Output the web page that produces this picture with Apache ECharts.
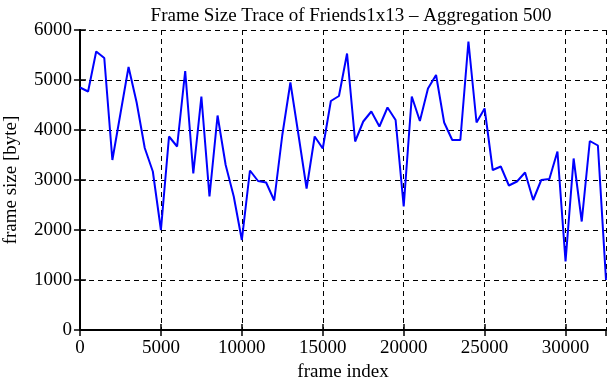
<!DOCTYPE html>
<html>
<head>
<meta charset="utf-8">
<script src="https://cdn.jsdelivr.net/npm/echarts@6/dist/echarts.min.js"></script>
<style>html,body{margin:0;padding:0;background:#fff}#c{width:611px;height:380px}</style>
</head>
<body>
<div id="c"></div>
<script>
const frameIndex = [0,500,1000,1500,2000,2500,3000,3500,4000,4500,5000,5500,6000,6500,7000,7500,8000,8500,9000,9500,10000,10500,11000,11500,12000,12500,13000,13500,14000,14500,15000,15500,16000,16500,17000,17500,18000,18500,19000,19500,20000,20500,21000,21500,22000,22500,23000,23500,24000,24500,25000,25500,26000,26500,27000,27500,28000,28500,29000,29500,30000,30500,31000,31500,32000,32500];
const frameSize = [4850,4770,5570,5440,3400,4330,5260,4550,3640,3170,2000,3870,3670,5180,3130,4670,2670,4290,3300,2670,1800,3190,2980,2950,2590,3900,4950,3900,2830,3870,3630,4580,4680,5530,3770,4170,4370,4070,4450,4200,2470,4670,4180,4830,5100,4150,3800,3800,5770,4150,4430,3200,3270,2890,2970,3150,2600,3000,3020,3570,1370,3430,2170,3780,3690,1000];
const xTicks = [0,5000,10000,15000,20000,25000,30000];
const yTicks = [0,1000,2000,3000,4000,5000,6000];
const titleText = 'Frame Size Trace of Friends1x13 \u2013 Aggregation 500';
const xName = 'frame index';
const yName = 'frame size [byte]';

const font = '"Liberation Serif", "DejaVu Serif", serif';
const chart = echarts.init(document.getElementById('c'), null, {renderer: 'canvas'});
const data = frameIndex.map((x, i) => [x, frameSize[i]]);
const axisLine = {show: true, lineStyle: {color: '#000', width: 2}};
const dashed = {show: true, lineStyle: {color: '#000', width: 1, type: [5, 4]}};
chart.setOption({
  animation: false,
  backgroundColor: '#fff',
  title: {text: titleText, left: 346, top: 2, textAlign: 'center',
    textStyle: {fontFamily: font, fontSize: 19, fontWeight: 'normal', color: '#000'}},
  grid: {left: 80, right: 5, top: 30, bottom: 50, containLabel: false, outerBoundsMode: 'none'},
  xAxis: [{
    type: 'value', min: 0, max: 32500, interval: 5000, position: 'bottom',
    name: xName, nameLocation: 'middle', nameGap: 33,
    nameTextStyle: {fontFamily: font, fontSize: 19, color: '#000'},
    axisLine: axisLine,
    axisTick: {show: true, inside: true, length: 6, lineStyle: {color: '#000', width: 1.5}},
    axisLabel: {fontFamily: font, fontSize: 19, color: '#000', margin: 9, showMaxLabel: false,
      formatter: v => xTicks.includes(v) ? String(v) : ''},
    splitLine: dashed
  }, {
    type: 'value', min: 0, max: 32500, interval: 5000, position: 'top',
    axisLine: axisLine,
    axisTick: {show: true, inside: true, length: 6, lineStyle: {color: '#000', width: 1.5}},
    axisLabel: {show: false}, splitLine: {show: false}
  }],
  yAxis: [{
    type: 'value', min: 0, max: 6000, interval: 1000, position: 'left',
    name: yName, nameLocation: 'middle', nameGap: 59, nameRotate: 90,
    nameTextStyle: {fontFamily: font, fontSize: 19, color: '#000'},
    axisLine: axisLine,
    axisTick: {show: true, inside: true, length: 6, lineStyle: {color: '#000', width: 1.5}},
    axisLabel: {fontFamily: font, fontSize: 19, color: '#000', margin: 8,
      formatter: v => yTicks.includes(v) ? String(v) : ''},
    splitLine: dashed
  }, {
    type: 'value', min: 0, max: 6000, interval: 1000, position: 'right',
    axisLine: axisLine,
    axisTick: {show: true, inside: true, length: 6, lineStyle: {color: '#000', width: 1.5}},
    axisLabel: {show: false}, splitLine: {show: false}
  }],
  series: [{
    type: 'line', data: data, xAxisIndex: 0, yAxisIndex: 0,
    showSymbol: false, symbol: 'none',
    lineStyle: {color: '#0000ff', width: 2}, z: 5
  }]
});
</script>
</body>
</html>
